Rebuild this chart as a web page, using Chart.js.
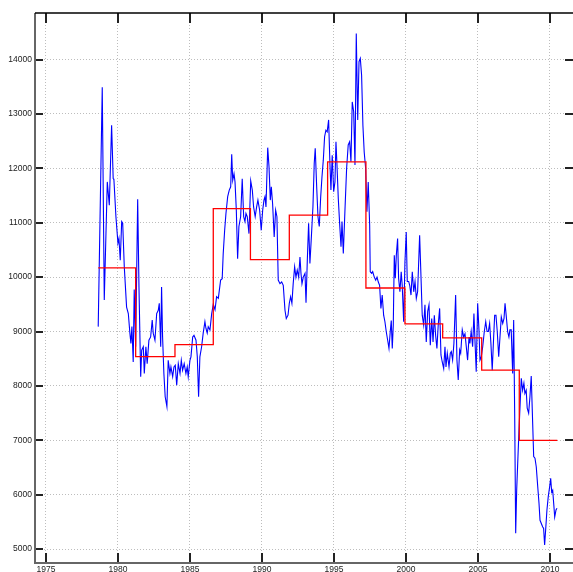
<!DOCTYPE html>
<html>
<head>
<meta charset="utf-8">
<script src="https://cdn.jsdelivr.net/npm/chart.js@4.4.0/dist/chart.umd.min.js"></script>
<style>
html, body { margin: 0; padding: 0; background: #fff; overflow: hidden; }
canvas { display: block; }
</style>
</head>
<body>
<canvas id="chart" width="573" height="572"></canvas>
<script>
// monthly series (year, value)
const monthYears = [
  1978.63,1978.91,1979.05,1979.26,1979.40,1979.56,1979.67,1979.72,1979.86,1980.00,1980.07,1980.16,1980.26,1980.33,1980.44,1980.60,1980.72,1980.83,1980.90,1980.97,
  1981.06,1981.13,1981.23,1981.37,1981.46,1981.58,1981.65,1981.76,1981.83,1981.94,1982.03,1982.15,1982.27,1982.38,1982.45,1982.57,1982.69,1982.80,1982.87,1982.97,
  1983.03,1983.10,1983.19,1983.28,1983.40,1983.49,1983.61,1983.68,1983.80,1983.89,1983.98,1984.08,1984.19,1984.31,1984.40,1984.49,1984.60,1984.72,1984.81,1984.88,
  1985.00,1985.07,1985.19,1985.28,1985.42,1985.51,1985.60,1985.69,1985.81,1985.92,1986.04,1986.11,1986.20,1986.27,1986.39,1986.51,1986.62,1986.74,1986.85,1986.97,
  1987.13,1987.24,1987.31,1987.41,1987.50,1987.62,1987.73,1987.83,1987.90,1987.97,1988.06,1988.13,1988.22,1988.31,1988.40,1988.52,1988.63,1988.73,1988.82,1988.89,
  1988.98,1989.10,1989.22,1989.33,1989.42,1989.53,1989.63,1989.72,1989.84,1989.95,1990.05,1990.14,1990.21,1990.28,1990.40,1990.49,1990.58,1990.65,1990.74,1990.85,
  1990.95,1991.04,1991.13,1991.25,1991.37,1991.48,1991.60,1991.69,1991.81,1991.90,1991.99,1992.08,1992.17,1992.27,1992.36,1992.45,1992.55,1992.64,1992.71,1992.78,
  1992.87,1992.99,1993.06,1993.15,1993.24,1993.33,1993.42,1993.54,1993.63,1993.70,1993.80,1993.89,1993.98,1994.08,1994.17,1994.26,1994.35,1994.44,1994.53,1994.63,
  1994.72,1994.79,1994.88,1994.98,1995.07,1995.14,1995.21,1995.30,1995.40,1995.49,1995.56,1995.65,1995.76,1995.88,1995.99,1996.09,1996.18,1996.27,1996.37,1996.46,
  1996.55,1996.65,1996.74,1996.83,1996.92,1997.01,1997.10,1997.20,1997.29,1997.38,1997.48,1997.52,1997.62,1997.69,1997.80,1997.90,1997.99,1998.08,1998.17,1998.26,
  1998.35,1998.45,1998.54,1998.63,1998.73,1998.82,1998.91,1998.98,1999.05,1999.12,1999.19,1999.26,1999.33,1999.42,1999.49,1999.58,1999.67,1999.74,1999.84,1999.93,
  2000.02,2000.09,2000.19,2000.26,2000.35,2000.44,2000.54,2000.63,2000.72,2000.81,2000.95,2001.04,2001.13,2001.23,2001.32,2001.41,2001.51,2001.60,2001.69,2001.79,
  2001.88,2001.97,2002.06,2002.15,2002.24,2002.34,2002.43,2002.52,2002.62,2002.71,2002.78,2002.87,2002.99,2003.08,2003.15,2003.24,2003.33,2003.45,2003.54,2003.63,
  2003.73,2003.80,2003.91,2004.01,2004.10,2004.19,2004.28,2004.38,2004.44,2004.53,2004.63,2004.72,2004.81,2004.88,2004.98,2005.07,2005.14,2005.23,2005.33,2005.44,
  2005.54,2005.63,2005.72,2005.81,2005.90,2005.99,2006.09,2006.16,2006.25,2006.34,2006.44,2006.53,2006.62,2006.72,2006.81,2006.88,2006.97,2007.06,2007.15,2007.22,
  2007.31,2007.41,2007.48,2007.55,2007.62,2007.69,2007.76,2007.85,2007.94,2008.01,2008.10,2008.19,2008.26,2008.35,2008.42,2008.52,2008.61,2008.70,2008.80,2008.87,
  2008.96,2009.05,2009.15,2009.24,2009.31,2009.40,2009.49,2009.56,2009.63,2009.70,2009.79,2009.88,2009.98,2010.05,2010.12,2010.19,2010.26,2010.33,2010.42,2010.49
];
const monthValues = [
  9090,13490,9580,11750,11320,12790,11810,11790,11110,10620,10710,10310,11020,10990,10190,9450,9330,8970,8780,9090,
  8440,9770,8720,11430,9820,8170,8660,8720,8230,8720,8410,8840,8900,9210,8970,8840,9330,9390,9520,8720,
  9820,8900,8230,7800,7620,8470,8230,8350,8170,8350,8380,8015,8410,8230,8470,8290,8410,8230,8350,8170,
  8470,8535,8900,8930,8840,8535,7800,8535,8720,8970,9180,9060,8970,9090,9030,9330,9500,9400,9640,9610,
  9945,9970,10435,10860,11170,11480,11600,11660,12260,11780,11900,11750,11230,10340,10930,11110,11810,11110,11020,11170,
  11110,10800,11770,11600,11290,11110,11290,11416,11230,10860,11230,11416,11480,11290,12380,12030,11416,11660,11350,10740,
  11230,11110,9945,9880,9910,9850,9390,9240,9300,9520,9640,9520,9880,10190,10000,10130,10000,10370,10070,9880,
  10000,10070,9530,10310,10990,10250,10680,11290,12090,12370,11660,11110,10930,11480,11850,12150,12580,12700,12670,12890,
  12090,11600,12240,11570,11750,12490,12060,11450,10960,10560,11020,10435,11200,12000,12430,12490,12120,13220,13040,12060,
  14480,12890,13960,14020,13710,12790,12300,12000,11200,11750,10960,10100,10070,10100,10000,9945,10000,9910,9850,9425,
  9670,9300,9180,9000,8840,8690,9000,9200,8690,9120,10400,9980,10400,10710,9980,9730,10100,9850,9180,10280,
  10830,9920,9920,9850,9670,10100,9730,9920,9610,9730,10770,10040,9300,9120,9490,8810,9370,9490,8750,9240,
  8810,9300,8930,8690,9120,9425,8570,8440,8320,8720,8350,8600,8350,8600,8630,8475,8780,9670,8475,8110,
  8660,8600,9030,8900,8960,8720,8475,8900,8780,9000,8720,9330,8720,8260,9520,9030,8475,8535,8720,9000,
  9180,9000,9000,9150,8780,8290,8900,9300,9300,9000,8535,8900,9270,9150,9240,9520,9270,9000,8900,9030,
  9030,8230,9210,7500,5290,6090,6580,7190,7740,8140,7920,8050,7860,7920,7590,7500,7800,8180,7310,6700,
  6670,6510,6150,5840,5530,5470,5410,5380,5075,5350,5720,5960,6150,6300,6050,6085,5840,5590,5720,5750
];
// piecewise constant level: start year of each segment and its level; last entry closes the final one
const stepYears = [1978.63, 1981.23, 1983.96, 1986.62, 1989.20, 1991.90, 1994.56, 1997.22, 1999.93, 2002.55, 2005.26, 2007.87, 2010.51];
const stepLevels = [10170, 8540, 8760, 11260, 10320, 11140, 12120, 9800, 9140, 8885, 8290, 7000, 7000];

const xTicks = [1975, 1980, 1985, 1990, 1995, 2000, 2005, 2010];
const yTicks = [5000, 6000, 7000, 8000, 9000, 10000, 11000, 12000, 13000, 14000];

// frame and inward tick marks
const frameTicks = {
  id: 'frameTicks',
  afterDraw(chart) {
    const { ctx, chartArea: a, scales: { x, y } } = chart;
    ctx.save();
    ctx.strokeStyle = '#222';
    ctx.lineWidth = 2;
    xTicks.forEach(v => {
      const px = Math.round(x.getPixelForValue(v));
      ctx.beginPath();
      ctx.moveTo(px, a.bottom); ctx.lineTo(px, a.bottom - 10);
      ctx.moveTo(px, a.top); ctx.lineTo(px, a.top + 10);
      ctx.stroke();
    });
    yTicks.forEach(v => {
      const py = Math.round(y.getPixelForValue(v));
      ctx.beginPath();
      ctx.moveTo(a.left, py); ctx.lineTo(a.left + 8, py);
      ctx.moveTo(a.right, py); ctx.lineTo(a.right - 8, py);
      ctx.stroke();
    });
    ctx.strokeStyle = '#666';
    ctx.beginPath();
    ctx.moveTo(a.left, a.top); ctx.lineTo(a.left, a.bottom); ctx.lineTo(a.right, a.bottom);
    ctx.stroke();
    ctx.strokeStyle = '#000';
    ctx.lineWidth = 1.5;
    ctx.beginPath();
    ctx.moveTo(a.left, a.top); ctx.lineTo(a.right, a.top);
    ctx.stroke();
    ctx.restore();
  }
};

const tickFont = { family: "'Liberation Sans', Arial, sans-serif", size: 8.5 };

new Chart(document.getElementById('chart'), {
  type: 'line',
  data: {
    datasets: [
      {
        data: stepYears.map((t, i) => ({ x: t, y: stepLevels[i] })),
        borderColor: '#ff0000',
        borderWidth: 1.3,
        stepped: 'before',
        order: 0
      },
      {
        data: monthYears.map((t, i) => ({ x: t, y: monthValues[i] })),
        borderColor: '#0000ff',
        borderWidth: 1.1,
        tension: 0,
        order: 1
      }
    ]
  },
  options: {
    responsive: false,
    animation: false,
    devicePixelRatio: 1,
    layout: { padding: { top: 13, right: 0, left: 0, bottom: 0 } },
    elements: { point: { radius: 0 } },
    plugins: { legend: { display: false }, tooltip: { enabled: false } },
    scales: {
      x: {
        type: 'linear',
        min: 1974.24,
        max: 2011.6,
        afterBuildTicks: s => { s.ticks = xTicks.map(v => ({ value: v })); },
        afterFit: s => { s.height = 9; },
        ticks: { font: tickFont, color: '#222', padding: 2, maxRotation: 0, autoSkip: false, callback: v => String(v) },
        grid: { color: '#bdbdbd', drawTicks: false, lineWidth: 1 },
        border: { display: false, dash: [1, 2] }
      },
      y: {
        min: 4745,
        max: 14855,
        afterBuildTicks: s => { s.ticks = yTicks.map(v => ({ value: v })); },
        afterFit: s => { s.width = 35; },
        ticks: { font: tickFont, color: '#222', padding: 3, autoSkip: false, callback: v => String(v) },
        grid: { color: '#bdbdbd', drawTicks: false, lineWidth: 1 },
        border: { display: false, dash: [1, 2] }
      }
    }
  },
  plugins: [frameTicks]
});
</script>
</body>
</html>
